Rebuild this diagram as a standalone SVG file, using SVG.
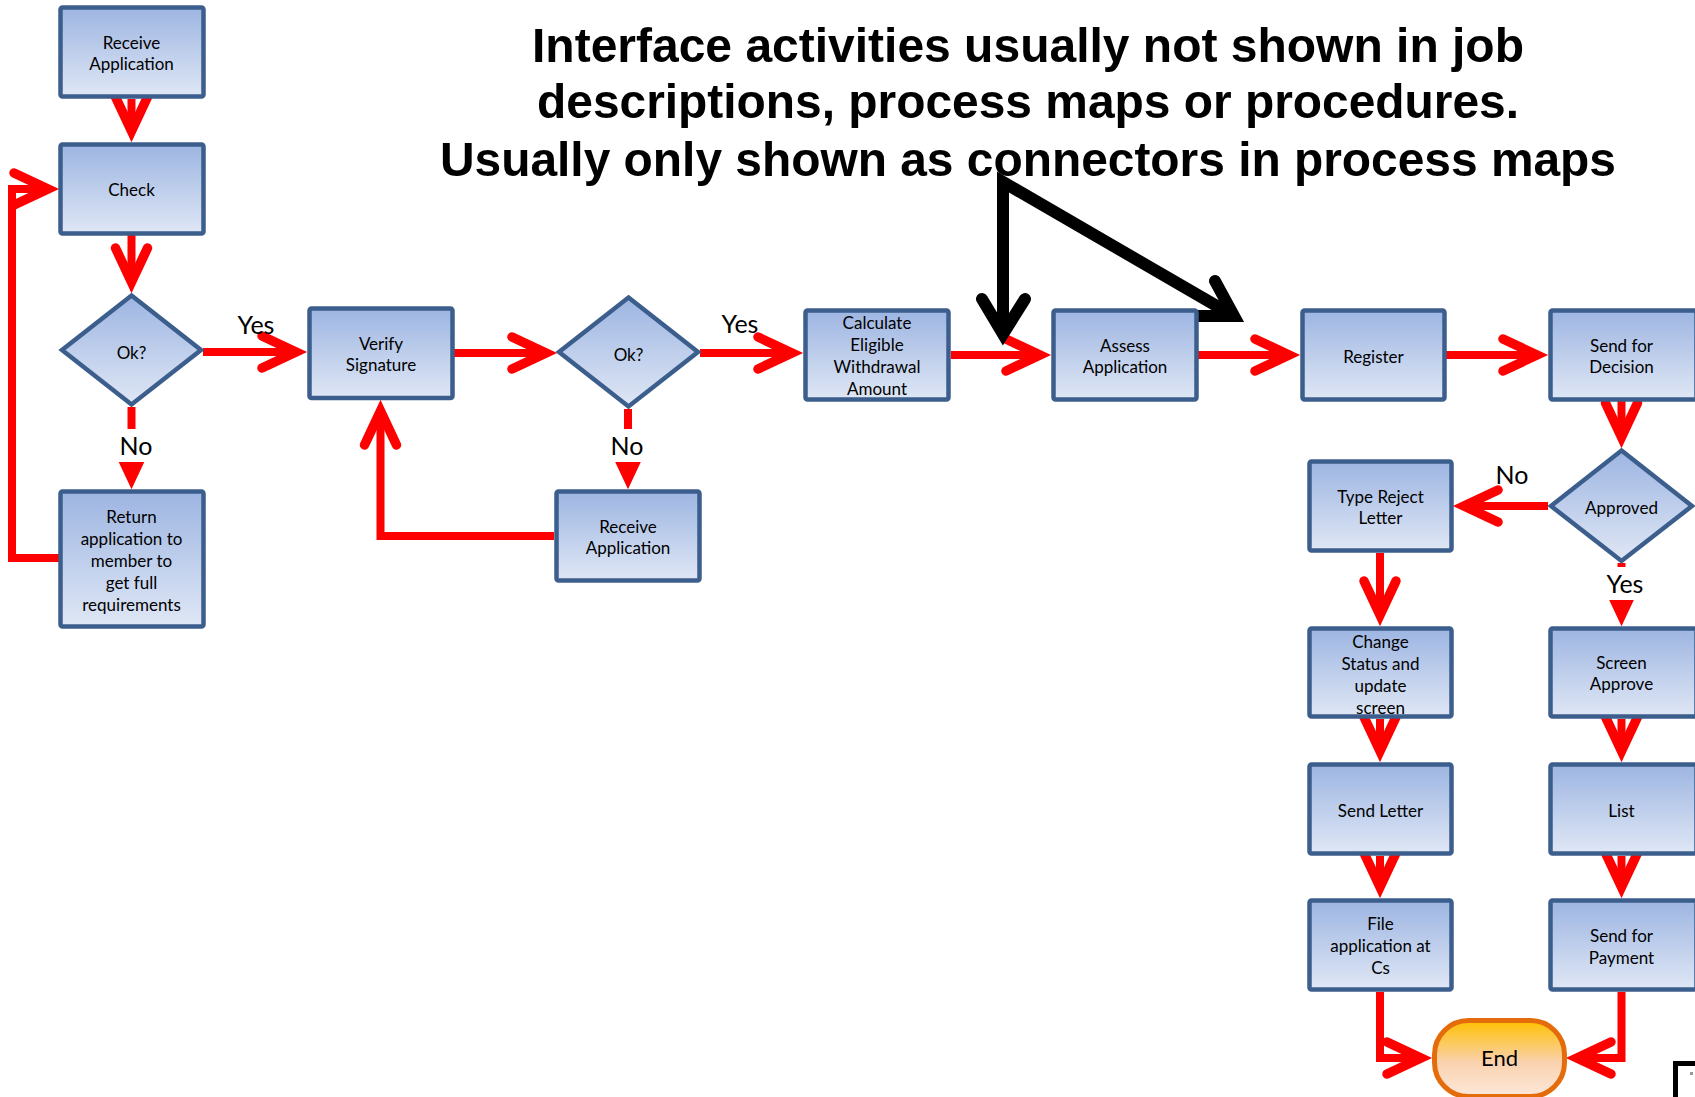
<svg xmlns="http://www.w3.org/2000/svg" width="1695" height="1097" viewBox="0 0 1695 1097">
<style>
.box{fill:url(#bg);stroke:#3C5E8C;stroke-width:4.5}
.t{font-family:Lato,"Open Sans",sans-serif;font-size:17px;fill:#000;text-anchor:middle}
.lbl{font-family:Lato,"Open Sans",sans-serif;font-size:25px;fill:#000;text-anchor:middle}
.title{font-family:"Liberation Sans",Arial,sans-serif;font-weight:bold;font-size:49px;fill:#000;text-anchor:middle}
.red{fill:none;stroke:#FF0000;stroke-width:8;stroke-linejoin:miter;marker-end:url(#ah)}
.blk{fill:none;stroke:#000;stroke-width:12}
</style>
<defs>
<linearGradient id="bg" x1="0" y1="0" x2="0" y2="1">
<stop offset="0" stop-color="#9DB5E2"/>
<stop offset="1" stop-color="#DFE7F5"/>
</linearGradient>
<linearGradient id="eg" x1="0" y1="0" x2="0" y2="1">
<stop offset="0" stop-color="#FFC000"/>
<stop offset="0.55" stop-color="#F9D2AE"/>
<stop offset="1" stop-color="#FDE8DA"/>
</linearGradient>
<marker id="ah" markerUnits="userSpaceOnUse" orient="auto" refX="0" refY="0" markerWidth="60" markerHeight="60" viewBox="-45 -30 60 60" overflow="visible">
<path d="M-34,-16 L0,0 L-34,16" fill="none" stroke="#FF0000" stroke-width="9.5" stroke-linecap="round" stroke-linejoin="miter"/>
</marker>
</defs>
<rect width="1695" height="1097" fill="#fff"/>

<g id="title">
<text class="title" x="1028" y="62" textLength="992" lengthAdjust="spacingAndGlyphs">Interface activities usually not shown in job</text>
<text class="title" x="1028" y="118" textLength="982" lengthAdjust="spacingAndGlyphs">descriptions, process maps or procedures.</text>
<text class="title" x="1028" y="176" textLength="1176" lengthAdjust="spacingAndGlyphs">Usually only shown as connectors in process maps</text>
</g>

<g id="connectors">
<path class="red" d="M131.5,99 V131"/>
<path class="red" d="M131.5,235 V282"/>
<path class="red" d="M203,352 H296"/>
<path class="red" d="M131.5,407 V478"/>
<path class="red" d="M59,558 H12 V189 H48"/>
<path class="red" d="M454,353 H546"/>
<path class="red" d="M700,353 H792"/>
<path class="red" d="M628,409 V478"/>
<path class="red" d="M554,536 H380.5 V411"/>
<path class="red" d="M951,355 H1040"/>
<path class="red" d="M1198,355 H1289"/>
<path class="red" d="M1446,355 H1537"/>
<path class="red" d="M1621.5,401 V437"/>
<path class="red" d="M1548,506 H1464"/>
<path class="red" d="M1621.5,563 V615"/>
<path class="red" d="M1380,553 V615"/>
<path class="red" d="M1380,719 V751"/>
<path class="red" d="M1380,856 V887"/>
<path class="red" d="M1621.5,719 V751"/>
<path class="red" d="M1621.5,856 V887"/>
<path class="red" d="M1380,992 V1058 H1421"/>
<path class="red" d="M1621.5,992 V1058 H1577"/>
<path class="blk" d="M1003,334 V182 L1234,316" stroke-linejoin="miter"/>
<path class="blk" d="M982,299 L1003,334 L1025,299" stroke-linecap="round" stroke-linejoin="miter"/>
<path class="blk" d="M1215,281 L1234,316 L1192,316" stroke-linecap="round" stroke-linejoin="miter"/>
</g>

<g id="labels">
<text class="lbl" x="256" y="334">Yes</text>
<text class="lbl" x="740" y="333">Yes</text>
<rect x="100" y="429" width="62" height="33" fill="#fff"/>
<text class="lbl" x="136" y="455">No</text>
<rect x="597" y="429" width="62" height="33" fill="#fff"/>
<text class="lbl" x="627" y="455">No</text>
<text class="lbl" x="1512" y="484">No</text>
<rect x="1590" y="567" width="66" height="33" fill="#fff"/>
<text class="lbl" x="1625" y="593">Yes</text>
</g>

<g id="n1"><rect class="box" x="60.5" y="7.5" width="143" height="89" rx="2"/>
<text class="t" x="131.5" y="49">Receive</text><text class="t" x="131.5" y="70">Application</text></g>
<g id="n2"><rect class="box" x="60.5" y="144.5" width="143" height="89" rx="2"/>
<text class="t" x="131.5" y="196">Check</text></g>
<g id="n3"><polygon class="box" points="131.5,295.5 201,350 131.5,404.5 62,350"/>
<text class="t" x="131.5" y="359">Ok?</text></g>
<g id="n4"><rect class="box" x="60.5" y="491.5" width="143" height="135" rx="2"/>
<text class="t" x="131.5" y="523">Return</text><text class="t" x="131.5" y="545">application to</text><text class="t" x="131.5" y="567">member to</text><text class="t" x="131.5" y="589">get full</text><text class="t" x="131.5" y="611">requirements</text></g>
<g id="n5"><rect class="box" x="309.5" y="308.5" width="143" height="89.5" rx="2"/>
<text class="t" x="381" y="350">Verify</text><text class="t" x="381" y="371">Signature</text></g>
<g id="n6"><polygon class="box" points="628.5,297.5 698,352 628.5,406.5 559,352"/>
<text class="t" x="628.5" y="361">Ok?</text></g>
<g id="n7"><rect class="box" x="556.5" y="491.5" width="143" height="89" rx="2"/>
<text class="t" x="628" y="533">Receive</text><text class="t" x="628" y="554">Application</text></g>
<g id="n8"><rect class="box" x="805.5" y="310.5" width="143" height="89" rx="2"/>
<text class="t" x="877" y="329">Calculate</text><text class="t" x="877" y="351">Eligible</text><text class="t" x="877" y="373">Withdrawal</text><text class="t" x="877" y="395">Amount</text></g>
<g id="n9"><rect class="box" x="1053.5" y="310.5" width="143" height="89" rx="2"/>
<text class="t" x="1125" y="352">Assess</text><text class="t" x="1125" y="373">Application</text></g>
<g id="n10"><rect class="box" x="1302.5" y="310.5" width="142" height="89" rx="2"/>
<text class="t" x="1373.5" y="363">Register</text></g>
<g id="n11"><rect class="box" x="1550.5" y="310.5" width="146" height="89" rx="2"/>
<text class="t" x="1621.5" y="352">Send for</text><text class="t" x="1621.5" y="373">Decision</text></g>
<g id="n12"><polygon class="box" points="1621.5,450.5 1692,506 1621.5,561 1551,506"/>
<text class="t" x="1621.5" y="514">Approved</text></g>
<g id="n13"><rect class="box" x="1309.5" y="461.5" width="142" height="89" rx="2"/>
<text class="t" x="1380.5" y="503">Type Reject</text><text class="t" x="1380.5" y="524">Letter</text></g>
<g id="n14"><rect class="box" x="1309.5" y="628.5" width="142" height="88" rx="2"/>
<text class="t" x="1380.5" y="648">Change</text><text class="t" x="1380.5" y="670">Status and</text><text class="t" x="1380.5" y="692">update</text><text class="t" x="1380.5" y="714">screen</text></g>
<g id="n15"><rect class="box" x="1550.5" y="628.5" width="146" height="88" rx="2"/>
<text class="t" x="1621.5" y="669">Screen</text><text class="t" x="1621.5" y="690">Approve</text></g>
<g id="n16"><rect class="box" x="1309.5" y="764.5" width="142" height="89" rx="2"/>
<text class="t" x="1380.5" y="817">Send Letter</text></g>
<g id="n17"><rect class="box" x="1550.5" y="764.5" width="146" height="89" rx="2"/>
<text class="t" x="1621.5" y="817">List</text></g>
<g id="n18"><rect class="box" x="1309.5" y="900.5" width="142" height="89" rx="2"/>
<text class="t" x="1380.5" y="930">File</text><text class="t" x="1380.5" y="952">application at</text><text class="t" x="1380.5" y="974">Cs</text></g>
<g id="n19"><rect class="box" x="1550.5" y="900.5" width="146" height="89" rx="2"/>
<text class="t" x="1621.5" y="942">Send for</text><text class="t" x="1621.5" y="964">Payment</text></g>
<g id="n20"><rect x="1434.5" y="1020.5" width="130" height="76" rx="34" ry="34" fill="url(#eg)" stroke="#E46C0A" stroke-width="5"/>
<text class="t" x="1499.5" y="1066" style="font-size:22px">End</text></g>

<rect x="1675.5" y="1063.5" width="40" height="50" fill="#fff" stroke="#000" stroke-width="5"/>
<rect x="1690" y="1072" width="3" height="3" fill="#999"/>
</svg>
